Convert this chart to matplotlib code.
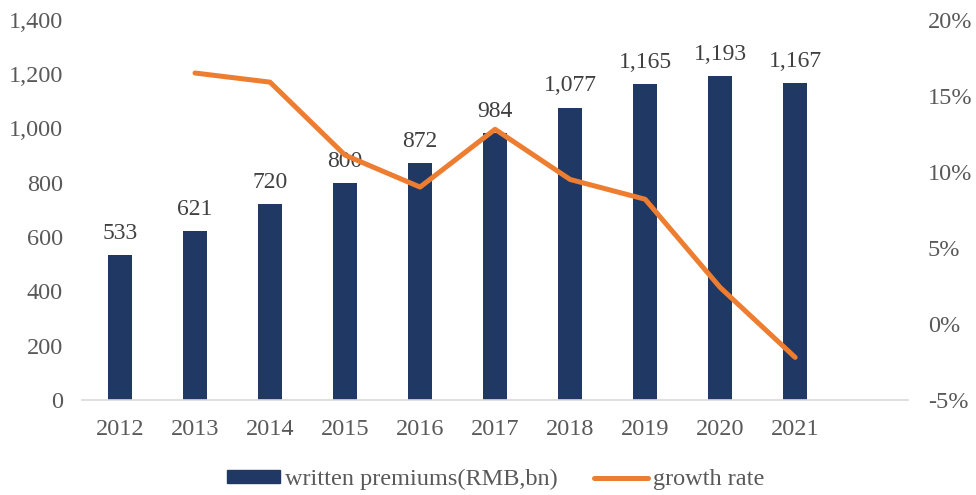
import matplotlib
matplotlib.use("Agg")
import matplotlib.pyplot as plt
from matplotlib.ticker import FuncFormatter, FixedLocator
from matplotlib.lines import Line2D
from matplotlib.patches import Patch

years = ["2012", "2013", "2014", "2015", "2016", "2017", "2018", "2019", "2020", "2021"]
premiums = [533, 621, 720, 800, 872, 984, 1077, 1165, 1193, 1167]
growth_years = ["2013", "2014", "2015", "2016", "2017", "2018", "2019", "2020", "2021"]
growth = [16.5, 15.9, 11.1, 9.0, 12.8, 9.5, 8.2, 2.4, -2.2]

bar_color = "#203864"
line_color = "#ED7D31"
text_color = "#595959"

plt.rcParams['font.family'] = ['Liberation Serif', 'DejaVu Serif']

fig = plt.figure(figsize=(9.76, 4.95), dpi=100)
ax = fig.add_axes([0.0845, 0.192, 0.8455, 0.768])
x = list(range(len(years)))
ax.bar(x, premiums, width=0.32, color=bar_color, zorder=2)
for xi, v in zip(x, premiums):
    ax.annotate(f"{v:,}", (xi, v), xytext=(0, 8), textcoords="offset points",
                ha="center", va="bottom", fontsize=17, color="#404040", zorder=1)
ax.set_xlim(-0.5, 10.5)
ax.set_ylim(0, 1400)
ax.yaxis.set_major_locator(FixedLocator(range(0, 1401, 200)))
ax.yaxis.set_major_formatter(FuncFormatter(lambda v, p: f"{int(v):,}"))
ax.set_xticks(x)
ax.set_xticklabels(years)
for s in ["top", "right", "left"]:
    ax.spines[s].set_visible(False)
ax.spines["bottom"].set_color("#D9D9D9")
ax.spines["bottom"].set_linewidth(1.2)
ax.tick_params(axis="both", length=0, labelsize=17.5, colors=text_color)
ax.tick_params(axis="x", pad=14)
ax.tick_params(axis="y", pad=14)

ax2 = ax.twinx()
gx = [years.index(y) for y in growth_years]
ax2.plot(gx, growth, color=line_color, linewidth=3.6, solid_capstyle="round", zorder=3)
ax2.set_ylim(-5, 20)
ax2.yaxis.set_major_locator(FixedLocator(range(-5, 21, 5)))
ax2.yaxis.set_major_formatter(FuncFormatter(lambda v, p: f"{int(v)}%"))
for s in ["top", "right", "left", "bottom"]:
    ax2.spines[s].set_visible(False)
ax2.tick_params(axis="y", length=0, labelsize=17.5, colors=text_color, pad=14.5)

handles = [Patch(color=bar_color), Line2D([0], [0], color=line_color, linewidth=3.6,
                                          solid_capstyle="round")]
labels = ["written premiums(RMB,bn)", "growth rate"]
fig.legend(handles, labels, loc="center", bbox_to_anchor=(0.5075, 0.031), ncol=2,
           frameon=False, fontsize=17.5, labelcolor=text_color, handlelength=2.2,
           handleheight=0.45, handletextpad=0.2, columnspacing=1.5)

fig.savefig("out.png", dpi=100)
